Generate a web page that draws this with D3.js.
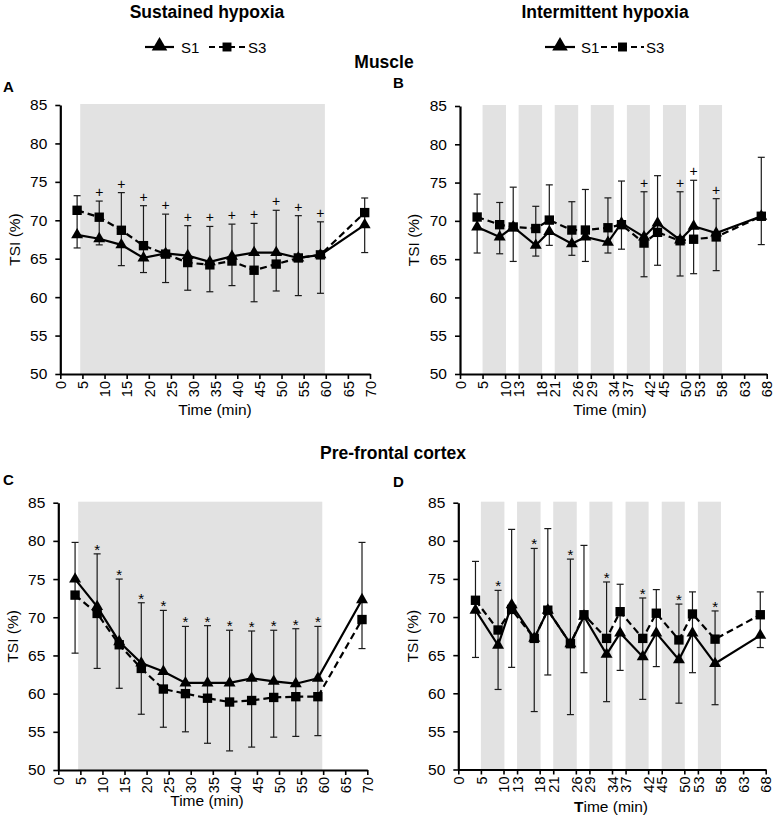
<!DOCTYPE html>
<html><head><meta charset="utf-8">
<script src="https://cdn.jsdelivr.net/npm/d3@7"></script>
<style>
body{margin:0;background:#fff}
svg{display:block}
text{font-family:"Liberation Sans",Arial,Helvetica,sans-serif;fill:#000}
</style>
</head><body>
<svg id="chart" width="777" height="821"></svg>
<script>
// ---------- data ----------
const sustainedTimes = [3.8, 8.8, 13.8, 18.8, 23.8, 28.8, 33.8, 38.8, 43.8, 48.8, 53.8, 58.8, 68.8];
const sustainedTicks = [0, 5, 10, 15, 20, 25, 30, 35, 40, 45, 50, 55, 60, 65, 70];
const sustainedShade = [[4.5, 59.8]];

const intermittentTimes = [3.8, 8.8, 11.8, 16.8, 19.8, 24.8, 27.8, 32.8, 35.8, 40.8, 43.8, 48.8, 51.8, 56.8, 66.8];
const intermittentTicks = [0, 5, 10, 13, 18, 21, 26, 29, 34, 37, 42, 45, 50, 53, 58, 63, 68];
const intermittentShade = [[5, 10.2], [13, 18.2], [21, 26.2], [29, 34.1], [37, 42.1], [45, 50.1], [53, 58.1]];

const yTicks = [50, 55, 60, 65, 70, 75, 80, 85];
const seriesNames = ["S1", "S3"];

// Panel A: muscle, sustained
const muscleSustS1 = [68.1, 67.6, 66.8, 65.1, 65.7, 65.4, 64.6, 65.3, 65.8, 65.8, 65.1, 65.5, 69.4];
const muscleSustS3 = [71.3, 70.4, 68.7, 66.7, 65.6, 64.5, 64.2, 64.7, 63.5, 64.3, 65.1, 65.5, 71.0];
const muscleSustHi = [73.2, 72.5, 73.6, 71.9, 70.8, 69.3, 69.2, 69.5, 69.6, 71.3, 70.6, 69.8, 72.9];
const muscleSustLo = [66.4, 66.8, 64.1, 63.2, 61.9, 60.9, 60.7, 61.5, 59.4, 60.8, 60.2, 60.5, 65.8];
const muscleSustSig = [0, 1, 1, 1, 1, 1, 1, 1, 1, 1, 1, 1, 0];

// Panel B: muscle, intermittent
const muscleIntS1 = [69.2, 67.9, 69.2, 66.8, 68.6, 67.0, 67.9, 67.2, 69.7, 67.9, 69.7, 67.5, 69.3, 68.4, 70.6];
const muscleIntS3 = [70.5, 69.5, 69.2, 69.0, 70.1, 68.8, 68.8, 69.1, 69.5, 67.1, 68.5, 67.4, 67.6, 67.9, 70.6];
const muscleIntHi = [73.5, 72.4, 74.4, 71.9, 74.7, 72.5, 74.1, 73.0, 75.2, 73.8, 75.9, 73.8, 75.3, 72.9, 78.3];
const muscleIntLo = [65.8, 65.7, 64.7, 65.4, 66.8, 65.5, 64.7, 65.8, 66.3, 62.7, 64.2, 62.8, 63.1, 63.5, 66.9];
const muscleIntSig = [0, 0, 0, 0, 0, 0, 0, 0, 0, 1, 0, 1, 1, 1, 0];

// Panel C: pre-frontal cortex, sustained
const pfcSustS1 = [75.0, 71.4, 66.8, 64.0, 62.9, 61.4, 61.4, 61.4, 62.0, 61.6, 61.3, 62.0, 72.3];
const pfcSustS3 = [72.9, 70.5, 66.4, 63.3, 60.6, 60.0, 59.4, 58.9, 59.1, 59.5, 59.6, 59.6, 69.7];
const pfcSustHi = [79.8, 78.3, 75.0, 71.9, 70.9, 68.8, 68.9, 68.3, 68.2, 68.3, 68.5, 68.8, 79.8];
const pfcSustLo = [65.3, 63.3, 60.7, 57.3, 55.6, 55.0, 53.5, 52.5, 53.0, 54.3, 54.4, 54.5, 65.9];
const pfcSustSig = [0, 1, 1, 1, 1, 1, 1, 1, 1, 1, 1, 1, 0];

// Panel D: pre-frontal cortex, intermittent
const pfcIntS1 = [70.9, 66.3, 71.6, 67.2, 70.9, 66.5, 70.1, 65.1, 67.9, 64.8, 67.9, 64.4, 67.9, 63.9, 67.6];
const pfcIntS3 = [72.2, 68.3, 71.0, 67.2, 70.9, 66.5, 70.3, 67.2, 70.7, 67.2, 70.5, 67.0, 70.4, 67.1, 70.3];
const pfcIntHi = [77.3, 73.5, 81.5, 79.0, 81.6, 77.6, 79.4, 74.6, 74.3, 72.5, 73.6, 71.7, 73.3, 70.8, 73.3];
const pfcIntLo = [64.7, 60.5, 63.4, 57.6, 62.4, 57.2, 62.7, 58.9, 63.0, 59.2, 63.5, 58.7, 62.7, 58.5, 66.0];
const pfcIntSig = [0, 1, 0, 1, 0, 1, 0, 1, 0, 1, 0, 1, 0, 1, 0];

// ---------- drawing ----------
const svg = d3.select("#chart");
const FONT = '"Liberation Sans",Arial,Helvetica,sans-serif';
const triSym = d3.symbol().type(d3.symbolTriangle).size(62);
const sqSym = d3.symbol().type(d3.symbolSquare).size(88);

function drawPanel(cfg) {
  const x = d3.scaleLinear().domain([0, cfg.xMax]).range([cfg.left, cfg.right]);
  const y = d3.scaleLinear().domain([50, 85]).range([cfg.bottom, cfg.top]);
  const g = svg.append("g");

  // shading
  g.selectAll("rect.shade").data(cfg.shade).enter().append("rect")
    .attr("x", d => x(d[0])).attr("width", d => x(d[1]) - x(d[0]))
    .attr("y", y(85) - 1).attr("height", y(50) - y(85) + 1)
    .attr("fill", "#e2e2e2");

  // axes
  const xa = g.append("g").attr("transform", `translate(0,${cfg.bottom})`)
    .call(d3.axisBottom(x).tickValues(cfg.xTicks).tickSize(5).tickSizeOuter(0).tickFormat(d3.format("d")));
  xa.selectAll("text").attr("transform", "rotate(-90)").attr("text-anchor", "end")
    .attr("x", -7).attr("y", 0).attr("dy", "0.36em")
    .style("font-size", "14.5px").style("font-family", FONT).attr("fill", "#000");
  const ya = g.append("g").attr("transform", `translate(${cfg.left},0)`)
    .call(d3.axisLeft(y).tickValues(yTicks).tickSize(5).tickSizeOuter(0).tickPadding(8));
  ya.selectAll("text").style("font-size", "15.5px").style("font-family", FONT).attr("fill", "#000");
  [xa, ya].forEach(a => {
    a.select(".domain").attr("stroke", "#000").attr("stroke-width", 2.2);
    a.selectAll(".tick line").attr("stroke", "#000").attr("stroke-width", 1.6);
  });

  // axis titles
  g.append("text").attr("transform", `translate(${cfg.left - 46},${(cfg.top + cfg.bottom) / 2}) rotate(-90)`)
    .attr("text-anchor", "middle").attr("dy", "0.35em").style("font-size", "15.5px").text("TSI (%)");
  const xt = g.append("text").attr("x", cfg.xTitleX).attr("y", cfg.xTitleY)
    .attr("text-anchor", "middle").style("font-size", "15.5px");
  if (cfg.boldT) {
    xt.append("tspan").style("font-weight", "bold").text("T");
    xt.append("tspan").text("ime (min)");
  } else xt.text("Time (min)");

  const idx = cfg.times.map((t, i) => i);

  // error bars
  const eb = g.append("g").attr("stroke", "#1a1a1a").attr("stroke-width", 1.2);
  eb.selectAll("line.v").data(idx).enter().append("line")
    .attr("x1", i => x(cfg.times[i])).attr("x2", i => x(cfg.times[i]))
    .attr("y1", i => y(cfg.hi[i])).attr("y2", i => y(cfg.lo[i]));
  eb.selectAll("line.h").data(idx).enter().append("line")
    .attr("x1", i => x(cfg.times[i]) - 3.5).attr("x2", i => x(cfg.times[i]) + 3.5)
    .attr("y1", i => y(cfg.hi[i])).attr("y2", i => y(cfg.hi[i]));
  eb.selectAll("line.l").data(idx).enter().append("line")
    .attr("x1", i => x(cfg.times[i]) - 3.5).attr("x2", i => x(cfg.times[i]) + 3.5)
    .attr("y1", i => y(cfg.lo[i])).attr("y2", i => y(cfg.lo[i]));

  // significance marks
  g.append("g").style("opacity", 0.995)
    .selectAll("text.sig").data(idx.filter(i => cfg.sig[i])).enter().append("text")
    .attr("x", i => x(cfg.times[i])).attr("y", i => y(cfg.hi[i]) - (cfg.sigChar === "+" ? 4 : -1))
    .attr("text-anchor", "middle").attr("fill", "#000")
    .style("font-size", cfg.sigChar === "+" ? "14px" : "15px")
    .text(cfg.sigChar);

  // lines
  const line = vals => d3.line().x((d, i) => x(cfg.times[i])).y(d => y(d))(vals);
  g.append("path").attr("d", line(cfg.s1)).attr("fill", "none").attr("stroke", "#000").attr("stroke-width", 2.2);
  g.selectAll("path.tri").data(cfg.s1).enter().append("path")
    .attr("d", triSym).attr("transform", (d, i) => `translate(${x(cfg.times[i])},${y(d)})`).attr("fill", "#000");
  g.append("path").attr("d", line(cfg.s3)).attr("fill", "none").attr("stroke", "#000")
    .attr("stroke-width", 2.2).attr("stroke-dasharray", "7,4");
  g.selectAll("path.sq").data(cfg.s3).enter().append("path")
    .attr("d", sqSym).attr("transform", (d, i) => `translate(${x(cfg.times[i])},${y(d)})`).attr("fill", "#000");
}

drawPanel({left: 60.3, right: 370, top: 105, bottom: 374, xMax: 70, xTicks: sustainedTicks, shade: sustainedShade,
  times: sustainedTimes, s1: muscleSustS1, s3: muscleSustS3, hi: muscleSustHi, lo: muscleSustLo, sig: muscleSustSig,
  sigChar: "+", xTitleX: 215, xTitleY: 415});
drawPanel({left: 460, right: 766.7, top: 106, bottom: 374, xMax: 68, xTicks: intermittentTicks, shade: intermittentShade,
  times: intermittentTimes, s1: muscleIntS1, s3: muscleIntS3, hi: muscleIntHi, lo: muscleIntLo, sig: muscleIntSig,
  sigChar: "+", xTitleX: 610, xTitleY: 415});
drawPanel({left: 58.3, right: 367.3, top: 502.7, bottom: 770, xMax: 70, xTicks: sustainedTicks, shade: sustainedShade,
  times: sustainedTimes, s1: pfcSustS1, s3: pfcSustS3, hi: pfcSustHi, lo: pfcSustLo, sig: pfcSustSig,
  sigChar: "*", xTitleX: 207, xTitleY: 806});
drawPanel({left: 458.3, right: 765.7, top: 502.7, bottom: 769.5, xMax: 68, xTicks: intermittentTicks, shade: intermittentShade,
  times: intermittentTimes, s1: pfcIntS1, s3: pfcIntS3, hi: pfcIntHi, lo: pfcIntLo, sig: pfcIntSig,
  sigChar: "*", xTitleX: 611, xTitleY: 812, boldT: true});

// ---------- titles ----------
function bold(txt, x, y, size, anchor) {
  svg.append("text").attr("x", x).attr("y", y).attr("text-anchor", anchor || "middle")
    .style("font-weight", "bold").style("font-size", size + "px").text(txt);
}
bold("Sustained hypoxia", 207, 18, 17.5);
bold("Intermittent hypoxia", 605, 18, 17.5);
bold("Muscle", 384, 68, 17.5);
bold("Pre-frontal cortex", 393, 459, 17.5);
bold("A", 3, 92, 15, "start");
bold("B", 393, 88, 15, "start");
bold("C", 3, 485, 15, "start");
bold("D", 393, 487, 15, "start");

// ---------- legends ----------
function legend(cfg) {
  const g = svg.append("g");
  const yy = cfg.y;
  g.append("line").attr("x1", cfg.l1[0]).attr("x2", cfg.l1[1]).attr("y1", yy).attr("y2", yy)
    .attr("stroke", "#000").attr("stroke-width", 2.2);
  g.append("path").attr("d", d3.symbol().type(d3.symbolTriangle).size(105))
    .attr("transform", `translate(${(cfg.l1[0] + cfg.l1[1]) / 2},${yy - 1})`);
  g.append("text").attr("x", cfg.t1).attr("y", yy + 5.5).style("font-size", "15px").text(seriesNames[0]);
  g.append("line").attr("x1", cfg.l2[0]).attr("x2", cfg.l2[1]).attr("y1", yy).attr("y2", yy)
    .attr("stroke", "#000").attr("stroke-width", 2.2).attr("stroke-dasharray", "6,4");
  g.append("path").attr("d", d3.symbol().type(d3.symbolSquare).size(80))
    .attr("transform", `translate(${(cfg.l2[0] + cfg.l2[1]) / 2},${yy})`);
  g.append("text").attr("x", cfg.t2).attr("y", yy + 5.5).style("font-size", "15px").text(seriesNames[1]);
}
legend({y: 47, l1: [145, 174], t1: 181, l2: [209, 245], t2: 248});
legend({y: 47, l1: [545, 575], t1: 581, l2: [601, 644], t2: 646});
</script>
</body></html>
